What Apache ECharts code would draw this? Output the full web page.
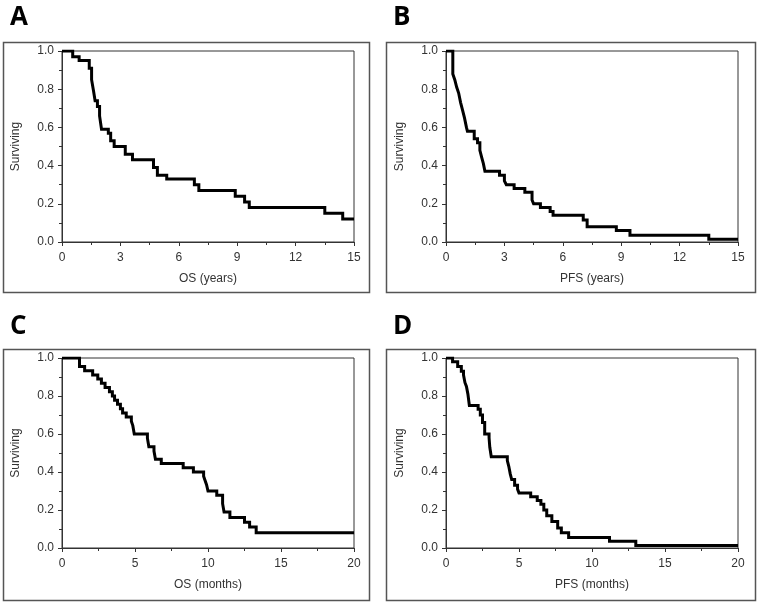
<!DOCTYPE html>
<html>
<head>
<meta charset="utf-8">
<script src="https://cdn.jsdelivr.net/npm/echarts@6/dist/echarts.min.js"></script>
<style>
html,body{margin:0;padding:0;background:#fff;}
#c{width:757px;height:603px;}
</style>
</head>
<body>
<div id="c"></div>
<script>
// Panel A: OS (years)
var osYearsT = [0, 0.55, 0.88, 1.40, 1.52, 1.62, 1.70, 1.82, 1.93, 2.03, 2.38, 2.50, 2.68, 3.25, 3.62, 4.70, 4.90, 5.38, 6.80, 7.03, 8.90, 9.38, 9.62, 13.5, 14.42, 15];
var osYearsS = [1, 0.97, 0.95, 0.91, 0.85, 0.79, 0.74, 0.71, 0.66, 0.59, 0.57, 0.53, 0.50, 0.46, 0.43, 0.39, 0.35, 0.33, 0.30, 0.27, 0.24, 0.21, 0.18, 0.15, 0.12, 0.12];
// Panel B: PFS (years)
var pfsYearsT = [0, 0.35, 0.45, 0.55, 0.65, 0.75, 0.85, 0.95, 1.05, 1.10, 1.45, 1.62, 1.74, 1.84, 1.92, 2.00, 2.75, 3.00, 3.10, 3.50, 4.05, 4.42, 4.50, 4.85, 5.35, 5.50, 7.05, 7.25, 8.75, 9.45, 13.5, 15];
var pfsYearsS = [1, 0.88, 0.85, 0.81, 0.78, 0.73, 0.69, 0.65, 0.60, 0.58, 0.54, 0.52, 0.48, 0.44, 0.41, 0.37, 0.35, 0.32, 0.30, 0.28, 0.26, 0.22, 0.20, 0.18, 0.16, 0.14, 0.115, 0.08, 0.06, 0.035, 0.015, 0.015];
// Panel C: OS (months)
var osMonthsT = [0, 1.2, 1.55, 2.1, 2.45, 2.7, 2.95, 3.25, 3.45, 3.6, 3.8, 4.0, 4.15, 4.4, 4.75, 4.85, 4.95, 5.85, 5.95, 6.3, 6.4, 6.8, 8.3, 9.0, 9.7, 9.8, 9.9, 10.0, 10.6, 11.0, 11.1, 11.5, 12.5, 12.85, 13.3, 20];
var osMonthsS = [1, 0.955, 0.933, 0.911, 0.889, 0.867, 0.845, 0.822, 0.80, 0.778, 0.756, 0.733, 0.711, 0.689, 0.667, 0.644, 0.60, 0.578, 0.533, 0.51, 0.467, 0.445, 0.423, 0.40, 0.378, 0.355, 0.333, 0.30, 0.278, 0.233, 0.19, 0.16, 0.135, 0.11, 0.08, 0.08];
// Panel D: PFS (months)
var pfsMonthsT = [0, 0.45, 0.8, 1.05, 1.2, 1.3, 1.4, 1.5, 1.6, 2.2, 2.35, 2.5, 2.65, 2.95, 3.0, 3.1, 4.2, 4.3, 4.4, 4.5, 4.7, 4.9, 5.0, 5.8, 6.25, 6.5, 6.7, 6.9, 7.25, 7.65, 7.9, 8.4, 11.2, 13.0, 20];
var pfsMonthsS = [1, 0.98, 0.955, 0.93, 0.91, 0.87, 0.85, 0.81, 0.75, 0.73, 0.70, 0.66, 0.60, 0.58, 0.53, 0.48, 0.46, 0.43, 0.39, 0.36, 0.33, 0.31, 0.29, 0.27, 0.25, 0.23, 0.20, 0.17, 0.14, 0.105, 0.08, 0.055, 0.035, 0.013, 0.013];

var panelLetters = ['A', 'B', 'C', 'D'];
var xTitles = ['OS (years)', 'PFS (years)', 'OS (months)', 'PFS (months)'];
var yTitle = 'Surviving';
var yTicks = [0, 0.2, 0.4, 0.6, 0.8, 1.0];
var xTicksYears = [0, 3, 6, 9, 12, 15];
var xTicksMonths = [0, 5, 10, 15, 20];

function pairs(t, s) { return t.map(function (v, i) { return [v, s[i]]; }); }
var seriesData = [pairs(osYearsT, osYearsS), pairs(pfsYearsT, pfsYearsS), pairs(osMonthsT, osMonthsS), pairs(pfsMonthsT, pfsMonthsS)];
var xTickSets = [xTicksYears, xTicksYears, xTicksMonths, xTicksMonths];

var grids = [
  {left: 62, top: 51, width: 292, height: 191},
  {left: 446, top: 51, width: 292, height: 191},
  {left: 62, top: 358, width: 292, height: 190},
  {left: 446, top: 358, width: 292, height: 190}
];
var boxes = [
  {x: 3, y: 42, w: 366, h: 250},
  {x: 386, y: 42, w: 369, h: 250},
  {x: 3, y: 349, w: 366, h: 251},
  {x: 386, y: 349, w: 369, h: 251}
];
var letterPos = [[10, 5], [393, 5], [10, 314], [393, 314]];

var font = '"Liberation Sans", Arial, sans-serif';
var textCol = '#333';
var frameCol = '#333';

var option = {
  animation: false,
  backgroundColor: '#fff',
  grid: grids.map(function (g) {
    return {left: g.left, top: g.top, width: g.width, height: g.height, show: true, borderColor: frameCol, borderWidth: 1, backgroundColor: '#fff', containLabel: false};
  }),
  xAxis: grids.map(function (g, i) {
    var ticks = xTickSets[i];
    return {
      type: 'value', gridIndex: i,
      min: ticks[0], max: ticks[ticks.length - 1], interval: ticks[1] - ticks[0],
      name: xTitles[i], nameLocation: 'middle', nameGap: 31,
      nameTextStyle: {fontFamily: font, fontSize: 12, color: textCol},
      axisLine: {show: true, onZero: false, lineStyle: {color: frameCol, width: 1}},
      axisTick: {show: true, length: 4, lineStyle: {color: frameCol}},
      minorTick: {show: true, splitNumber: 2, length: 3, lineStyle: {color: frameCol}},
      axisLabel: {fontFamily: font, fontSize: 12, color: textCol, margin: 10},
      splitLine: {show: false}
    };
  }),
  yAxis: grids.map(function (g, i) {
    return {
      type: 'value', gridIndex: i,
      min: yTicks[0], max: yTicks[yTicks.length - 1], interval: yTicks[1] - yTicks[0],
      name: yTitle, nameLocation: 'middle', nameGap: 40, nameRotate: 90,
      nameTextStyle: {fontFamily: font, fontSize: 12, color: textCol},
      axisLine: {show: true, onZero: false, lineStyle: {color: frameCol, width: 1}},
      axisTick: {show: true, length: 4, lineStyle: {color: frameCol}},
      minorTick: {show: true, splitNumber: 2, length: 3, lineStyle: {color: frameCol}},
      axisLabel: {fontFamily: font, fontSize: 12, color: textCol, margin: 8,
        formatter: function (v) { return v.toFixed(1); }},
      splitLine: {show: false}
    };
  }),
  series: seriesData.map(function (d, i) {
    return {
      type: 'line', xAxisIndex: i, yAxisIndex: i, data: d, step: 'end',
      symbol: 'none', clip: true,
      lineStyle: {color: '#000', width: 3, join: 'miter'}
    };
  }),
  graphic: boxes.map(function (b) {
    return {type: 'rect', shape: {x: b.x + 0.5, y: b.y + 0.5, width: b.w, height: b.h}, z: -10,
      style: {fill: 'none', stroke: '#555', lineWidth: 1.5}, silent: true};
  }).concat(panelLetters.map(function (L, i) {
    return {type: 'text', left: letterPos[i][0], top: letterPos[i][1], z: 10,
      style: {text: L, font: 'bold 26px "Open Sans", "Liberation Sans", sans-serif', fill: '#000'}};
  }))
};

var chart = echarts.init(document.getElementById('c'), null, {renderer: 'canvas'});
chart.setOption(option);
</script>
</body>
</html>
